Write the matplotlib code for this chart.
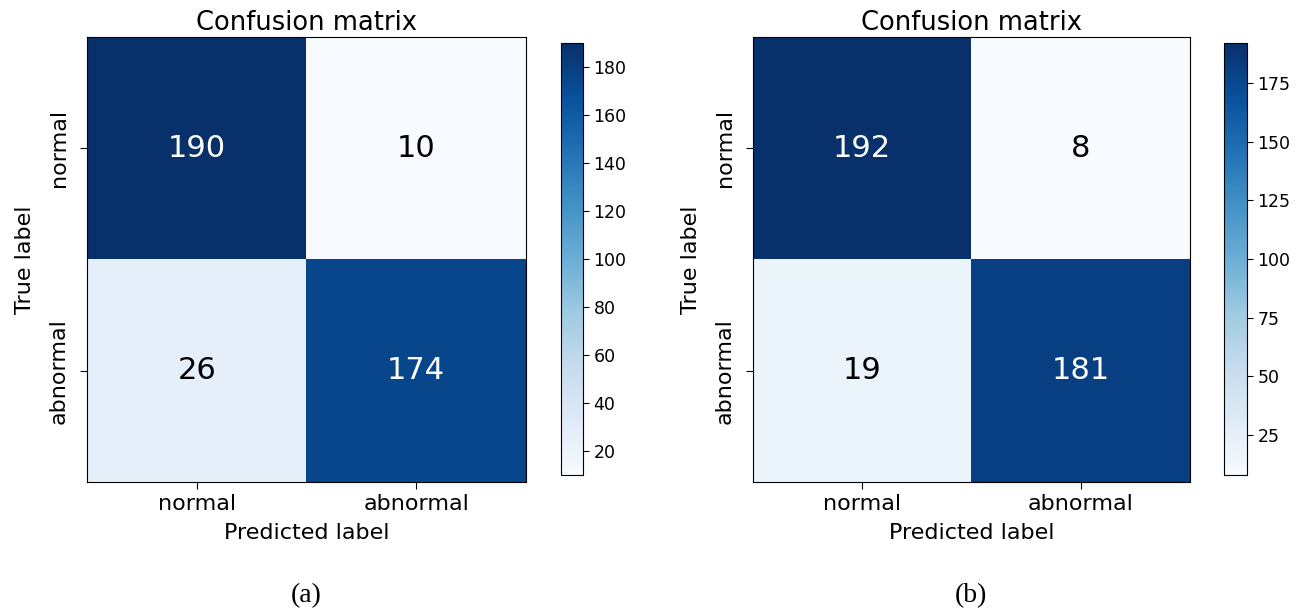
import numpy as np
import matplotlib
matplotlib.use('Agg')
import matplotlib.pyplot as plt

classes = ['normal', 'abnormal']
cm_a = np.array([[190, 10], [26, 174]])
cm_b = np.array([[192, 8], [19, 181]])
ticks_a = [20, 40, 60, 80, 100, 120, 140, 160, 180]
ticks_b = [25, 50, 75, 100, 125, 150, 175]
captions = ['(a)', '(b)']

W, H = 1309, 610
fig = plt.figure(figsize=(W / 100, H / 100), dpi=100)


def box(x0, y0, x1, y1):
    # pixel box -> figure fraction
    return [x0 / W, 1 - y1 / H, (x1 - x0) / W, (y1 - y0) / H]


panels = [
    (cm_a, ticks_a, box(87, 37, 526, 482), box(561, 43, 583, 475), 306),
    (cm_b, ticks_b, box(753, 37, 1190, 482), box(1224, 43, 1247, 475), 971),
]

for (cm, cticks, apos, cpos, cx), cap in zip(panels, captions):
    ax = fig.add_axes(apos)
    im = ax.imshow(cm, interpolation='nearest', cmap=plt.cm.Blues, aspect='auto')
    ax.set_title('Confusion matrix', fontsize=18.5, pad=5)
    ax.set_xticks(range(len(classes)))
    ax.set_xticklabels(classes, fontsize=16)
    ax.set_yticks(range(len(classes)))
    ax.set_yticklabels(classes, fontsize=16, rotation=90, va='center')
    ax.tick_params(axis='x', length=5, pad=4)
    ax.tick_params(axis='y', length=5, pad=8)
    ax.set_xlabel('Predicted label', fontsize=16, labelpad=6)
    ax.set_ylabel('True label', fontsize=16, labelpad=10)
    thresh = cm.max() / 2.
    for i in range(cm.shape[0]):
        for j in range(cm.shape[1]):
            ax.text(j, i, format(cm[i, j], 'd'), ha='center', va='center', fontsize=22,
                    color='white' if cm[i, j] > thresh else 'black')
    cax = fig.add_axes(cpos)
    cb = fig.colorbar(im, cax=cax, ticks=cticks)
    cb.ax.tick_params(labelsize=12.5, length=4)
    fig.text(cx / W, 1 - 596 / H, cap, ha='center', va='center', fontsize=20,
             family='Liberation Serif')

fig.savefig('out.png', dpi=100)
